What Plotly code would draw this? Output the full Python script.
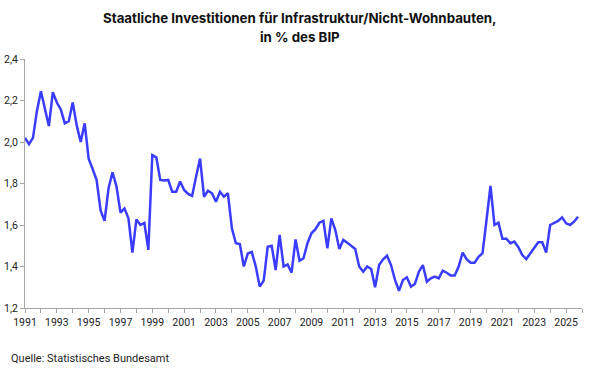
import plotly.graph_objects as go

years = list(range(1991, 2026))
values = [
    2.02, 1.99, 2.02, 2.15,   # 1991
    2.245, 2.16, 2.077, 2.24,  # 1992
    2.19, 2.157, 2.09, 2.10,  # 1993
    2.19, 2.08, 2.00, 2.09,   # 1994
    1.92, 1.87, 1.817, 1.67,  # 1995
    1.62, 1.777, 1.854, 1.785,  # 1996
    1.66, 1.68, 1.632, 1.467,  # 1997
    1.627, 1.60, 1.61, 1.48,  # 1998
    1.937, 1.926, 1.817, 1.814,  # 1999
    1.817, 1.76, 1.76, 1.81,  # 2000
    1.769, 1.75, 1.74, 1.833,  # 2001
    1.92, 1.736, 1.765, 1.753,  # 2002
    1.712, 1.76, 1.736, 1.753,  # 2003
    1.584, 1.512, 1.508, 1.40,  # 2004
    1.463, 1.47, 1.40, 1.303,  # 2005
    1.332, 1.495, 1.50, 1.383,  # 2006
    1.552, 1.40, 1.41, 1.37,  # 2007
    1.53, 1.428, 1.44, 1.512,  # 2008
    1.56, 1.58, 1.611, 1.62,  # 2009
    1.488, 1.632, 1.576, 1.484,  # 2010
    1.528, 1.515, 1.50, 1.484,  # 2011
    1.40, 1.375, 1.40, 1.388,  # 2012
    1.30, 1.407, 1.435, 1.452,  # 2013
    1.407, 1.335, 1.283, 1.335,  # 2014
    1.348, 1.303, 1.316, 1.375,  # 2015
    1.407, 1.327, 1.343, 1.351,  # 2016
    1.343, 1.38, 1.37, 1.357,  # 2017
    1.357, 1.40, 1.467, 1.435,  # 2018
    1.418, 1.418, 1.447, 1.464,  # 2019
    1.624, 1.788, 1.60, 1.611,  # 2020
    1.534, 1.534, 1.512, 1.52,  # 2021
    1.493, 1.455, 1.436, 1.464,  # 2022
    1.493, 1.517, 1.517, 1.467,  # 2023
    1.60, 1.611, 1.62, 1.637,  # 2024
    1.608, 1.60, 1.616, 1.64,  # 2025
]
quarters = [1, 2, 3, 4]

x = [y + (q - 1) / 4 for y in years for q in quarters]

title_line1 = "<b>Staatliche Investitionen für Infrastruktur/Nicht-Wohnbauten,</b>"
title_line2 = "<b>in % des BIP</b>"
source_text = "Quelle: Statistisches Bundesamt"

L, R, T, B = 25, 18, 59, 70
W, H = 600, 378
PW, PH = W - L - R, H - T - B

def px_x(px):
    return (px - L) / PW

def px_y(py):
    return (H - B - py) / PH

title_font = dict(family="Inter, Roboto, Arial, sans-serif", size=13.3, color="#111111")

fig = go.Figure()
fig.add_trace(go.Scatter(
    x=x, y=values, mode="lines",
    line=dict(color="#3a3cff", width=2.5),
    showlegend=False, hoverinfo="skip",
))

fig.update_layout(
    width=W, height=H,
    margin=dict(l=L, r=R, t=T, b=B, autoexpand=False),
    paper_bgcolor="white", plot_bgcolor="white",
    separators=",.",
    font=dict(family="Roboto, Arial, sans-serif", color="#222222", size=10),
    xaxis=dict(
        range=[1991, 2026], tick0=1991, dtick=2, automargin=False,
        showgrid=False, zeroline=False,
        showline=True, linecolor="#a6a6a6", linewidth=1,
        ticks="outside", ticklen=4, tickcolor="#a6a6a6",
        tickfont=dict(size=10.5, color="#222222"),
        minor=dict(dtick=1, tick0=1991, ticks="outside", ticklen=4, tickcolor="#a6a6a6", showgrid=False),
    ),
    yaxis=dict(
        range=[1.2, 2.4], dtick=0.2, tick0=1.2, tickformat=".1f", automargin=False,
        showgrid=False, zeroline=False,
        showline=True, linecolor="#a6a6a6", linewidth=1,
        ticks="outside", ticklen=4, tickcolor="#a6a6a6",
        tickfont=dict(size=10.5, color="#222222"),
    ),
    annotations=[
        dict(text=title_line1, xref="paper", yref="paper", x=px_x(300), y=px_y(18),
             xanchor="center", yanchor="middle", showarrow=False, font=title_font),
        dict(text=title_line2, xref="paper", yref="paper", x=px_x(300), y=px_y(37),
             xanchor="center", yanchor="middle", showarrow=False, font=title_font),
        dict(text=source_text, xref="paper", yref="paper",
             x=px_x(9), y=px_y(358), xanchor="left", yanchor="middle",
             showarrow=False, font=dict(size=11, color="#222222")),
    ],
)

fig.write_html("out.html", config={"displayModeBar": False, "staticPlot": True},
               post_script="document.body.style.margin='0';")
